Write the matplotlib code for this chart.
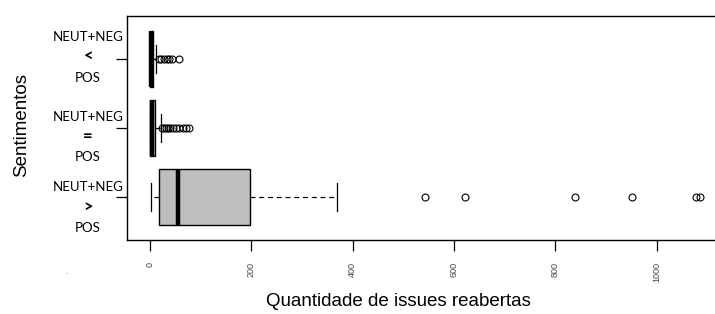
import matplotlib
matplotlib.use("Agg")
import matplotlib.pyplot as plt

# grupos de baixo para cima
grupos = ["NEUT+NEG\n>\nPOS", "NEUT+NEG\n=\nPOS", "NEUT+NEG\n<\nPOS"]
simbolos = [">", "=", "<"]

q1 = [18, 0, 0]
mediana = [55, 3, 1]
q3 = [197, 10, 5]
whis_min = [2, 0, 0]
whis_max = [368, 21, 12]
outliers = [
    [542, 622, 838, 952, 1078, 1085],
    [24, 28, 31, 35, 39, 45, 51, 58, 65, 71, 77],
    [17, 21, 27, 33, 38, 44, 57],
]

ticks_x = [0, 200, 400, 600, 800, 1000]

fig = plt.figure(figsize=(7.15, 3.14), dpi=100)
ax = fig.add_axes([127 / 715, 74 / 314, 1 - 127 / 715, 224 / 314])

stats = []
for i in range(3):
    stats.append({
        "med": mediana[i], "q1": q1[i], "q3": q3[i],
        "whislo": whis_min[i], "whishi": whis_max[i],
        "fliers": outliers[i],
    })

ax.bxp(stats, positions=[1, 2, 3], vert=False, widths=0.8, patch_artist=True,
       boxprops=dict(facecolor="#bebebe", edgecolor="black", linewidth=1),
       medianprops=dict(color="black", linewidth=3.2, solid_capstyle="butt"),
       whiskerprops=dict(color="black", linewidth=0.9, linestyle=(0, (4, 3))),
       capprops=dict(color="black", linewidth=0.9),
       capwidths=0.4,
       flierprops=dict(marker="o", markerfacecolor="none", markeredgecolor="black",
                       markersize=5, markeredgewidth=0.8))

ax.set_xlim(-45.4, 1114.8)
ax.set_ylim(0.38, 3.62)

ax.set_xticks(ticks_x)
ax.set_xticklabels([str(t) for t in ticks_x], rotation=90, fontsize=6.5,
                   color="#444444", family="Liberation Sans")
ax.tick_params(axis="x", length=8, width=0.9, pad=8)
ax.set_yticks([1, 2, 3])
ax.set_yticklabels([])
ax.tick_params(axis="y", length=8, width=0.9)

for s in ["left", "top", "bottom"]:
    ax.spines[s].set_linewidth(1.0)
ax.spines["right"].set_visible(False)

# rótulos do eixo y em três linhas (símbolo do meio em negrito)
deslocamentos = [(-10, 11, 31), (-11, 8, 29), (-22, -2, 19)]
for i in range(3):
    topo, meio, baixo = deslocamentos[i]
    for txt, dy, peso, tam in [("NEUT+NEG", topo, "normal", 9.5),
                               (simbolos[i], meio, "bold", 12),
                               ("POS", baixo, "normal", 9.5)]:
        ax.annotate(txt, xy=(0, i + 1), xycoords=ax.get_yaxis_transform(),
                    xytext=(-28, -dy * 0.72), textcoords="offset points",
                    ha="center", va="center", fontsize=tam, fontweight=peso,
                    family="Lato", annotation_clip=False)

fig.text(22 / 715, 1 - 125 / 314, "Sentimentos", rotation=90, ha="center",
         va="center", fontsize=13.5, family="Liberation Sans")
fig.text(398 / 715, 1 - 302 / 314, "Quantidade de issues reabertas", ha="center",
         va="center", fontsize=13.5, family="Liberation Sans")
fig.text(66 / 715, 1 - 271 / 314, ".", ha="center", va="center", fontsize=6,
         color="#444444")

fig.savefig("out.png", dpi=100)
